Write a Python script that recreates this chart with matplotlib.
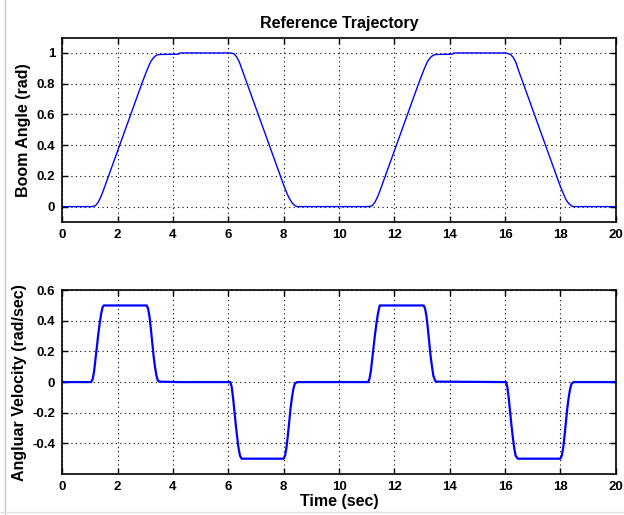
import matplotlib
matplotlib.use('Agg')
import matplotlib.pyplot as plt
from matplotlib.lines import Line2D

# boom angle
angle_t = [0, 1.04, 1.1, 1.2, 1.3, 1.4, 1.5, 1.64, 2.06, 2.47, 2.88, 3.0, 3.1, 3.2, 3.3, 3.4, 3.5,
           4.2, 4.25, 6.07, 6.2, 6.3, 6.4, 6.48, 7.0, 7.47, 7.9, 8.0, 8.1, 8.12, 8.2, 8.3, 8.4, 8.48,
           11.05, 11.1, 11.2, 11.3, 11.4, 11.5, 11.64, 12.06, 12.47, 12.88, 13.0, 13.1, 13.2, 13.3, 13.4, 13.5,
           14.1, 14.15, 16.03, 16.2, 16.3, 16.4, 16.46, 17.0, 17.47, 17.9, 18.0, 18.05, 18.07, 18.2, 18.3,
           18.4, 18.47, 20.0]
angle = [0, 0, 0.001, 0.006, 0.029, 0.066, 0.113, 0.183, 0.393, 0.598, 0.803, 0.86, 0.905, 0.945,
         0.97, 0.985, 0.99, 0.992, 1.0, 1.0, 0.995, 0.975, 0.94, 0.9, 0.64, 0.405, 0.19, 0.14, 0.095, 0.085,
         0.055, 0.025, 0.007, 0, 0, 0.001, 0.006, 0.029, 0.066, 0.113, 0.183, 0.393, 0.598, 0.803, 0.86,
         0.905, 0.945, 0.97, 0.985, 0.99, 0.992, 1.0, 1.0, 0.99, 0.97, 0.935, 0.9, 0.63, 0.395, 0.18, 0.13,
         0.11, 0.1, 0.045, 0.02, 0.005, 0, 0]

# angular velocity
vel_t = [0, 1.04, 1.1, 1.15, 1.2, 1.25, 1.3, 1.35, 1.4, 1.45, 1.5, 3.05, 3.1, 3.15, 3.2, 3.25, 3.3, 3.35, 3.4,
         3.45, 3.5, 4.2, 6.07, 6.12, 6.17, 6.22, 6.27, 6.32, 6.37, 6.42, 6.48, 8.0, 8.05, 8.1, 8.15, 8.2, 8.25,
         8.3, 8.35, 8.4, 8.48, 11.05, 11.1, 11.15, 11.2, 11.25, 11.3, 11.35, 11.4, 11.47, 13.06, 13.11, 13.16,
         13.21, 13.26, 13.31, 13.36, 13.41, 13.49, 16.03, 16.08, 16.13, 16.18, 16.23, 16.28, 16.33, 16.38, 16.46,
         18.0, 18.05, 18.1, 18.15, 18.2, 18.25, 18.3, 18.35, 18.4, 18.47, 20.0]
vel = [0, 0, 0.02, 0.07, 0.15, 0.23, 0.31, 0.38, 0.44, 0.485, 0.5, 0.5, 0.48, 0.43, 0.35, 0.26, 0.17, 0.1, 0.045,
       0.012, 0.003, 0.0, 0, -0.03, -0.1, -0.19, -0.28, -0.36, -0.43, -0.48, -0.5, -0.5, -0.48, -0.43, -0.35,
       -0.26, -0.17, -0.1, -0.045, -0.012, 0, 0, 0.02, 0.07, 0.15, 0.23, 0.31, 0.38, 0.44, 0.5, 0.5, 0.48, 0.43,
       0.35, 0.26, 0.17, 0.1, 0.04, 0.003, 0, -0.03, -0.1, -0.19, -0.28, -0.36, -0.43, -0.48, -0.5, -0.5, -0.48,
       -0.43, -0.35, -0.26, -0.17, -0.1, -0.045, -0.012, 0, 0]

xticks = [0, 2, 4, 6, 8, 10, 12, 14, 16, 18, 20]
angle_ticks = [0, 0.2, 0.4, 0.6, 0.8, 1]
vel_ticks = [-0.4, -0.2, 0, 0.2, 0.4, 0.6]

plt.rcParams['font.family'] = ['Liberation Sans', 'DejaVu Sans']

fig = plt.figure(figsize=(6.24, 5.15), dpi=100)
ax1 = fig.add_axes([0.0998, 0.569, 0.887, 0.358])
ax2 = fig.add_axes([0.0998, 0.0796, 0.887, 0.357])


def style(ax, yticks, ylabels):
    ax.set_xlim(0, 20)
    ax.set_xticks(xticks)
    ax.set_xticklabels([str(v) for v in xticks], fontsize=9.5, fontweight='bold')
    ax.set_yticks(yticks)
    ax.set_yticklabels(ylabels, fontsize=9.5, fontweight='bold')
    ax.grid(True, color='black', linestyle=(0, (1, 3)), linewidth=0.8)
    ax.tick_params(direction='in', top=True, right=True, length=4, width=1, pad=5)
    for s in ['top', 'bottom', 'left', 'right']:
        ax.spines[s].set_linewidth(1.2)


ax1.plot(angle_t, angle, color='#0000ff', linewidth=1.0)
ax1.set_ylim(-0.1, 1.1)
style(ax1, angle_ticks, ['0', '0.2', '0.4', '0.6', '0.8', '1'])
ax1.set_ylabel('Boom Angle (rad)', fontsize=11.5, fontweight='bold')
ax1.set_title('Reference Trajectory', fontsize=11.5, fontweight='bold', pad=7)

ax2.plot(vel_t, vel, color='#0000ff', linewidth=1.6)
ax2.set_ylim(-0.6, 0.6)
style(ax2, vel_ticks, ['-0.4', '-0.2', '0', '0.2', '0.4', '0.6'])
ax2.set_ylabel('Angluar Velocity (rad/sec)', fontsize=11.5, fontweight='bold')
ax2.set_xlabel('Time (sec)', fontsize=11.5, fontweight='bold', labelpad=1)

# thin grey frame edges seen in the screenshot
fig.add_artist(Line2D([5 / 624, 5 / 624], [0, 1], color='#c8c8c8', linewidth=1))
fig.add_artist(Line2D([0, 1], [3 / 515, 3 / 515], color='#e0e0e0', linewidth=1))

plt.savefig('out.png', dpi=100)
